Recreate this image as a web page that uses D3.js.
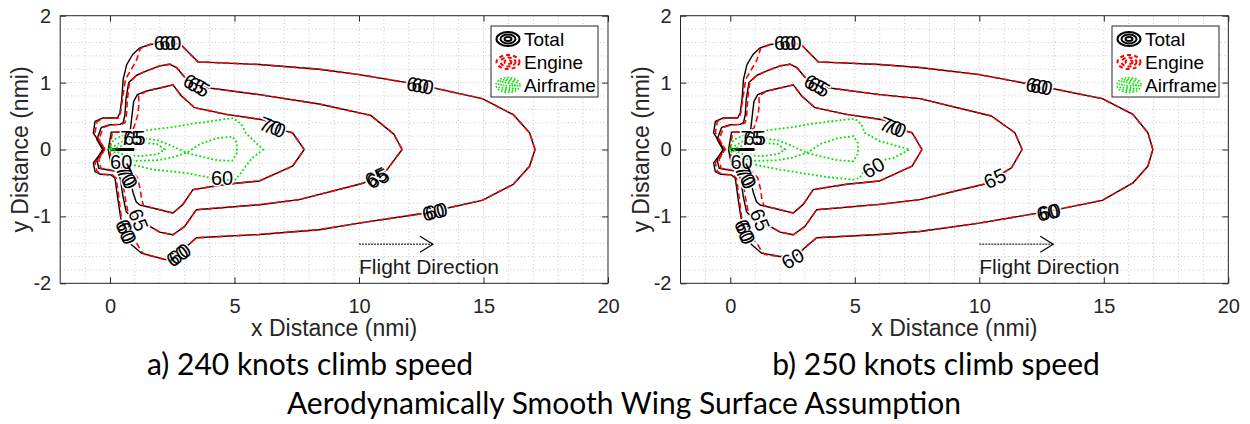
<!DOCTYPE html>
<html><head><meta charset="utf-8">
<script src="https://cdn.jsdelivr.net/npm/d3@7"></script>
<style>body{margin:0;background:#fff}svg{display:block}</style>
</head><body><svg id="c" width="1250" height="424"></svg>
<script>
// ---------- data ----------
const xTicks = [0, 5, 10, 15, 20];
const yTicks = [-2, -1, 0, 1, 2];
const legendNames = ["Total", "Engine", "Airframe"];
const captions = ["a) 240 knots climb speed", "b) 250 knots climb speed"];
const mainTitle = "Aerodynamically Smooth Wing Surface Assumption";

// Panel a (240 knots) contours [x nmi, y nmi]
const totalA60 = [[17.07,0],[16.85,0.25],[16.2,0.52],[14.95,0.76],[12.4,0.97],[10,1.12],[8.4,1.2],[6,1.27],[3.53,1.31],[2.87,1.56],[2.4,1.6],[1.6,1.57],[1.2,1.52],[0.91,1.42],[0.67,1.27],[0.53,1.05],[0.47,0.75],[0.4,0.55],[0.3,0.47],[-0.3,0.47],[-0.6,0.42],[-0.67,0.25],[-0.25,0.0],[-0.67,-0.2],[-0.6,-0.33],[-0.4,-0.37],[0.05,-0.38],[0.2,-0.43],[0.3,-0.7],[0.42,-1.0],[0.55,-1.25],[0.85,-1.42],[1.27,-1.55],[2.27,-1.65],[2.75,-1.56],[3.13,-1.43],[3.47,-1.32],[6,-1.27],[8.4,-1.2],[10,-1.1],[12.5,-0.96],[14.95,-0.76],[16.2,-0.52],[16.85,-0.25],[17.07,0]];
const totalA65 = [[11.73,0],[11.4,0.23],[10.47,0.51],[8.4,0.68],[6,0.82],[4.07,0.915],[3.47,0.965],[3.0,1.08],[2.67,1.225],[2.4,1.275],[2.0,1.25],[1.47,1.175],[1.07,1.11],[0.75,1.0],[0.64,0.75],[0.6,0.52],[0.53,0.4],[0.4,0.375],[0.0,0.37],[-0.35,0.33],[-0.53,0.15],[-0.3,0.0],[-0.53,-0.15],[-0.45,-0.28],[0.0,-0.31],[0.3,-0.33],[0.42,-0.45],[0.52,-0.7],[0.65,-0.93],[0.9,-1.02],[1.2,-1.08],[1.6,-1.15],[2.0,-1.235],[2.53,-1.275],[3.0,-1.15],[3.47,-0.9],[6,-0.825],[7.6,-0.75],[10.2,-0.5],[11.13,-0.3],[11.73,0]];
const totalA70 = [[7.8,0],[7.33,0.25],[6.9,0.29],[6.2,0.44],[4.67,0.525],[3.4,0.625],[2.87,0.8],[2.53,0.965],[2.0,0.92],[1.47,0.875],[1.1,0.82],[0.95,0.72],[0.88,0.5],[0.82,0.3],[0.65,0.26],[0.05,0.26],[-0.07,0.0],[0.05,-0.24],[0.35,-0.25],[0.6,-0.3],[0.8,-0.45],[0.93,-0.65],[1.05,-0.78],[1.2,-0.83],[2.0,-0.9],[2.53,-0.95],[2.93,-0.82],[3.33,-0.6],[4.67,-0.52],[6.0,-0.47],[7.33,-0.25],[7.8,0]];
const totalA75 = [[0.05,0.012],[0.95,0.012],[0.95,-0.012],[0.05,-0.012],[0.05,0.012]];
const engineA60 = [[17.07,0],[16.85,0.25],[16.2,0.52],[14.95,0.76],[12.4,0.97],[10,1.12],[8.4,1.2],[6,1.27],[3.53,1.31],[2.87,1.56],[2.4,1.6],[1.6,1.57],[1.22,1.51],[1.06,1.33],[0.62,1.05],[0.5,0.75],[0.42,0.55],[0.35,0.47],[-0.22,0.47],[-0.52,0.42],[-0.6,0.25],[-0.2,0.0],[-0.6,-0.2],[-0.52,-0.33],[-0.32,-0.37],[0.1,-0.38],[0.25,-0.43],[0.35,-0.7],[0.45,-1.0],[0.62,-1.25],[1.07,-1.4],[1.25,-1.52],[1.4,-1.57],[2.27,-1.65],[2.75,-1.56],[3.13,-1.43],[3.47,-1.32],[6,-1.27],[8.4,-1.2],[10,-1.1],[12.5,-0.96],[14.95,-0.76],[16.2,-0.52],[16.85,-0.25],[17.07,0]];
const engineA65 = [[11.73,0],[11.4,0.23],[10.47,0.51],[8.4,0.68],[6,0.82],[4.07,0.915],[3.47,0.965],[3.0,1.08],[2.67,1.225],[2.4,1.275],[2.0,1.25],[1.47,1.175],[1.07,1.11],[0.78,1.0],[0.7,0.75],[0.66,0.52],[0.6,0.4],[0.45,0.375],[0.05,0.37],[-0.27,0.33],[-0.45,0.15],[-0.22,0.0],[-0.45,-0.15],[-0.37,-0.28],[0.08,-0.31],[0.38,-0.33],[0.5,-0.45],[0.6,-0.7],[0.72,-0.93],[0.95,-1.02],[1.2,-1.08],[1.6,-1.15],[2.0,-1.235],[2.53,-1.275],[3.0,-1.15],[3.47,-0.9],[6,-0.825],[7.6,-0.75],[10.2,-0.5],[11.13,-0.3],[11.73,0]];
const engineA70 = [[7.8,0],[7.33,0.25],[6.9,0.29],[6.2,0.44],[4.67,0.525],[3.4,0.625],[2.87,0.8],[2.53,0.965],[2.0,0.92],[1.47,0.875],[1.15,0.8],[1.16,0.68],[1.12,0.52],[0.95,0.32],[0.7,0.26],[0.1,0.26],[-0.02,0.0],[0.1,-0.24],[0.45,-0.25],[0.8,-0.3],[1.1,-0.42],[1.22,-0.6],[1.27,-0.75],[1.35,-0.84],[2.0,-0.9],[2.53,-0.95],[2.93,-0.82],[3.33,-0.6],[4.67,-0.52],[6.0,-0.47],[7.33,-0.25],[7.8,0]];
const airA60 = [[-0.05,0.0],[0.15,0.15],[0.67,0.23],[1.3,0.28],[1.75,0.3],[2.6,0.34],[3.2,0.38],[4.0,0.42],[4.95,0.47],[5.27,0.38],[5.45,0.25],[5.8,0.12],[6.15,0.0],[5.7,-0.13],[5.45,-0.25],[5.2,-0.38],[5.0,-0.47],[4.0,-0.42],[3.2,-0.36],[2.53,-0.33],[1.73,-0.3],[0.93,-0.23],[0.3,-0.13],[-0.05,0.0]];
const airA65 = [[0.02,0.02],[0.5,0.12],[1.1,0.18],[1.9,0.14],[2.5,0.05],[3.07,-0.05],[3.6,-0.1],[4.3,-0.16],[4.9,-0.17],[5.1,-0.05],[5.1,0.1],[4.93,0.19],[4.3,0.17],[3.6,0.08],[3.07,-0.05],[2.5,-0.12],[1.9,-0.16],[1.0,-0.17],[0.4,-0.12],[0.02,0.02]];
const airA70 = [[0.1,0.0],[0.6,0.07],[1.3,0.1],[1.9,0.08],[2.2,0.0],[1.9,-0.07],[1.2,-0.1],[0.5,-0.07],[0.1,0.0]];
// labels [x, y, text, rotation deg]
const labelsA = [[2.2,1.6,"60",0],[2.42,1.6,"60",0],[3.4,0.98,"65",28],[3.56,0.94,"65",28],[6.45,0.35,"70",20],[6.62,0.32,"70",20],
  [12.36,0.965,"60",10],[12.56,0.95,"60",10],[10.68,-0.41,"65",-25],[10.76,-0.43,"65",-25],[12.98,-0.935,"60",-12],[13.1,-0.92,"60",-12],
  [2.7,-1.59,"60",-35],[2.8,-1.56,"60",-35],[1.15,-1.05,"65",68],[0.63,-1.21,"60",68],[0.68,-1.25,"60",68],[0.66,-0.38,"70",62],[0.71,-0.42,"70",62],
  [0.86,0.17,"75",0],[0.98,0.17,"65",0],[0.45,-0.18,"60",0],[4.5,-0.43,"60",0]];

// Panel b (250 knots)
const totalB60 = [[16.97,0],[16.77,0.25],[16.17,0.525],[14.94,0.76],[12.42,0.95],[10,1.12],[7.61,1.225],[6,1.27],[3.53,1.31],[2.87,1.56],[2.4,1.6],[1.6,1.57],[1.2,1.52],[0.91,1.42],[0.67,1.27],[0.53,1.05],[0.47,0.75],[0.4,0.55],[0.3,0.47],[-0.3,0.47],[-0.6,0.42],[-0.67,0.25],[-0.25,0.0],[-0.67,-0.2],[-0.6,-0.33],[-0.4,-0.37],[0.05,-0.38],[0.2,-0.43],[0.3,-0.7],[0.42,-1.0],[0.55,-1.25],[0.85,-1.42],[1.26,-1.55],[2.0,-1.6],[2.6,-1.6],[3.13,-1.425],[3.47,-1.32],[6,-1.27],[7.61,-1.225],[10,-1.1],[12.76,-0.925],[14.94,-0.76],[16.17,-0.5],[16.77,-0.25],[16.97,0]];
const totalB65 = [[11.72,0],[11.43,0.25],[10.49,0.5],[7.61,0.76],[6,0.82],[4.07,0.915],[3.47,0.965],[3.0,1.08],[2.67,1.225],[2.4,1.275],[2.0,1.25],[1.47,1.175],[1.07,1.11],[0.75,1.0],[0.64,0.75],[0.6,0.52],[0.53,0.4],[0.4,0.375],[0.0,0.37],[-0.35,0.33],[-0.53,0.15],[-0.3,0.0],[-0.53,-0.15],[-0.45,-0.28],[0.0,-0.31],[0.3,-0.33],[0.42,-0.45],[0.52,-0.7],[0.65,-0.93],[0.9,-1.02],[1.2,-1.08],[1.6,-1.15],[2.0,-1.235],[2.53,-1.275],[3.0,-1.15],[3.47,-0.9],[6,-0.82],[7.61,-0.75],[10.22,-0.515],[11.29,-0.275],[11.72,0]];
const totalB70 = [[7.7,0],[7.3,0.25],[6.9,0.29],[6.2,0.44],[4.67,0.525],[3.4,0.625],[2.87,0.8],[2.53,0.965],[2.0,0.92],[1.47,0.875],[1.1,0.82],[0.95,0.72],[0.88,0.5],[0.82,0.3],[0.65,0.26],[0.05,0.26],[-0.07,0.0],[0.05,-0.24],[0.35,-0.25],[0.6,-0.3],[0.8,-0.45],[0.93,-0.65],[1.05,-0.78],[1.2,-0.83],[2.0,-0.9],[2.53,-0.95],[2.93,-0.82],[3.33,-0.6],[4.67,-0.52],[6.0,-0.47],[7.3,-0.25],[7.7,0]];
const totalB75 = [[0.05,0.012],[0.95,0.012],[0.95,-0.012],[0.05,-0.012],[0.05,0.012]];
const engineB60 = [[16.97,0],[16.77,0.25],[16.17,0.525],[14.94,0.76],[12.42,0.95],[10,1.12],[7.61,1.225],[6,1.27],[3.53,1.31],[2.87,1.56],[2.4,1.6],[1.6,1.57],[1.22,1.51],[1.06,1.33],[0.62,1.05],[0.5,0.75],[0.42,0.55],[0.35,0.47],[-0.22,0.47],[-0.52,0.42],[-0.6,0.25],[-0.2,0.0],[-0.6,-0.2],[-0.52,-0.33],[-0.32,-0.37],[0.1,-0.38],[0.25,-0.43],[0.35,-0.7],[0.45,-1.0],[0.62,-1.25],[1.07,-1.4],[1.25,-1.52],[1.4,-1.57],[2.0,-1.6],[2.6,-1.6],[3.13,-1.425],[3.47,-1.32],[6,-1.27],[7.61,-1.225],[10,-1.1],[12.76,-0.925],[14.94,-0.76],[16.17,-0.5],[16.77,-0.25],[16.97,0]];
const engineB65 = [[11.72,0],[11.43,0.25],[10.49,0.5],[7.61,0.76],[6,0.82],[4.07,0.915],[3.47,0.965],[3.0,1.08],[2.67,1.225],[2.4,1.275],[2.0,1.25],[1.47,1.175],[1.07,1.11],[0.78,1.0],[0.7,0.75],[0.66,0.52],[0.6,0.4],[0.45,0.375],[0.05,0.37],[-0.27,0.33],[-0.45,0.15],[-0.22,0.0],[-0.45,-0.15],[-0.37,-0.28],[0.08,-0.31],[0.38,-0.33],[0.5,-0.45],[0.6,-0.7],[0.72,-0.93],[0.95,-1.02],[1.2,-1.08],[1.6,-1.15],[2.0,-1.235],[2.53,-1.275],[3.0,-1.15],[3.47,-0.9],[6,-0.82],[7.61,-0.75],[10.22,-0.515],[11.29,-0.275],[11.72,0]];
const engineB70 = [[7.7,0],[7.3,0.25],[6.9,0.29],[6.2,0.44],[4.67,0.525],[3.4,0.625],[2.87,0.8],[2.53,0.965],[2.0,0.92],[1.47,0.875],[1.15,0.8],[1.16,0.68],[1.12,0.52],[0.95,0.32],[0.7,0.26],[0.1,0.26],[-0.02,0.0],[0.1,-0.24],[0.45,-0.25],[0.8,-0.3],[1.1,-0.42],[1.22,-0.6],[1.27,-0.75],[1.35,-0.84],[2.0,-0.9],[2.53,-0.95],[2.93,-0.82],[3.33,-0.6],[4.67,-0.52],[6.0,-0.47],[7.3,-0.25],[7.7,0]];
const airB60 = [[-0.05,0.0],[0.15,0.15],[0.67,0.23],[1.3,0.28],[1.75,0.3],[2.6,0.34],[3.2,0.38],[4.0,0.42],[5.0,0.46],[5.27,0.375],[5.4,0.25],[6.0,0.125],[7.2,0.0],[6.55,-0.125],[6.0,-0.17],[5.48,-0.225],[5.35,-0.33],[5.2,-0.425],[4.94,-0.45],[3.87,-0.41],[3.0,-0.36],[2.0,-0.3],[1.0,-0.23],[0.3,-0.13],[-0.05,0.0]];
const airB65 = [[0.02,0.02],[0.5,0.12],[1.1,0.18],[1.9,0.14],[2.5,0.05],[3.07,-0.05],[3.6,-0.1],[4.3,-0.16],[4.94,-0.175],[5.14,-0.05],[5.12,0.1],[4.94,0.2],[4.3,0.17],[3.6,0.08],[3.07,-0.05],[2.5,-0.12],[1.9,-0.16],[1.0,-0.17],[0.4,-0.12],[0.02,0.02]];
const airB70 = [[0.1,0.0],[0.6,0.07],[1.3,0.1],[1.9,0.08],[2.2,0.0],[1.9,-0.07],[1.2,-0.1],[0.5,-0.07],[0.1,0.0]];
const labelsB = [[2.2,1.6,"60",0],[2.42,1.6,"60",0],[3.42,0.975,"65",28],[3.56,0.94,"65",28],[6.45,0.35,"70",20],[6.62,0.32,"70",20],
  [12.32,0.955,"60",10],[12.5,0.94,"60",10],[10.62,-0.43,"65",-25],[12.74,-0.94,"60",-12],[12.82,-0.93,"60",-12],
  [2.5,-1.63,"60",-30],[1.2,-1.05,"65",68],[0.57,-1.21,"60",68],[0.62,-1.25,"60",68],[0.6,-0.38,"70",62],[0.65,-0.42,"70",62],
  [0.86,0.17,"75",0],[0.98,0.17,"65",0],[0.45,-0.18,"60",0],[5.74,-0.27,"60",-30]];

const arrowData = {x0: 10, x1: 12.97, y: -1.415, label: "Flight Direction", labelY: -1.86};

// ---------- drawing ----------
const svg = d3.select("#c");
const FONT = "'Liberation Sans', Arial, Helvetica, sans-serif";
const CAPFONT = "Lato, 'Open Sans', sans-serif";
const AX = "#262626";

function drawPanel(p) {
  const x = d3.scaleLinear().domain([-2, 20]).range([p.x0, p.x1]);
  const y = d3.scaleLinear().domain([-2, 2]).range([283.3, 15.7]);
  const g = svg.append("g");
  const [X0, X1] = x.range(), [Y1, Y0] = y.range();

  // grid (dotted)
  const grid = g.append("g").attr("stroke", "#b8b8b8").attr("stroke-width", 0.8).attr("stroke-dasharray", "1,2.6");
  grid.selectAll("line.gx").data(d3.range(-1, 20, 1)).enter().append("line")
    .attr("x1", d => x(d)).attr("x2", d => x(d)).attr("y1", Y0).attr("y2", Y1);
  grid.selectAll("line.gy").data(d3.range(-9, 10, 1).map(v => v * 0.2)).enter().append("line")
    .attr("y1", d => y(d)).attr("y2", d => y(d)).attr("x1", X0).attr("x2", X1);

  const clipId = "clip" + p.id;
  svg.append("clipPath").attr("id", clipId).append("rect")
    .attr("x", X0).attr("y", Y0).attr("width", X1 - X0).attr("height", Y1 - Y0);
  const cg = g.append("g").attr("clip-path", `url(#${clipId})`);
  const line = d3.line().x(d => x(d[0])).y(d => y(d[1]));

  p.total.forEach(c => cg.append("path").attr("d", line(c)).attr("fill", "none")
    .attr("stroke", "#000").attr("stroke-width", 1.4).attr("stroke-linejoin", "round"));
  p.engine.forEach(c => cg.append("path").attr("d", line(c)).attr("fill", "none")
    .attr("stroke", "#ff0000").attr("stroke-width", 1.6).attr("stroke-dasharray", "6,3.5"));
  p.air.forEach(c => cg.append("path").attr("d", line(c)).attr("fill", "none")
    .attr("stroke", "#00e000").attr("stroke-width", 1.8).attr("stroke-dasharray", "1.8,2.3"));

  // contour labels: halos first, then texts (so overlapping labels both show)
  const lab = sel => sel.attr("transform", d => `translate(${x(d[0])},${y(d[1])}) rotate(${d[3]})`)
    .attr("text-anchor", "middle").attr("dy", "0.36em")
    .attr("font-family", FONT).attr("font-size", 20).text(d => d[2]);
  cg.selectAll("text.halo").data(p.labels).enter().append("text").call(lab)
    .attr("fill", "#fff").attr("stroke", "#fff").attr("stroke-width", 3);
  cg.selectAll("text.cl").data(p.labels).enter().append("text").call(lab).attr("fill", "#000");

  // flight direction arrow
  const ay = y(arrowData.y), ax0 = x(arrowData.x0), ax1 = x(arrowData.x1);
  g.append("line").attr("x1", ax0).attr("x2", ax1).attr("y1", ay).attr("y2", ay)
    .attr("stroke", "#000").attr("stroke-width", 1).attr("stroke-dasharray", "2,1");
  g.append("path").attr("d", `M${ax1 - 13},${ay - 8}L${ax1},${ay}L${ax1 - 13},${ay + 8}`)
    .attr("fill", "none").attr("stroke", "#000").attr("stroke-width", 1.2);
  g.append("text").attr("x", ax0).attr("y", y(arrowData.labelY))
    .attr("font-family", FONT).attr("font-size", 21).attr("fill", "#1a1a1a").text(arrowData.label);

  // axes (ticks inside, box)
  const style = sel => {
    sel.select(".domain").remove();
    sel.selectAll("line").attr("stroke", AX).attr("stroke-width", 1);
    sel.selectAll("text").attr("font-family", FONT).attr("font-size", 20).attr("fill", AX);
  };
  const fmt = d => String(d);
  g.append("g").attr("transform", `translate(0,${Y1})`)
    .call(d3.axisBottom(x).tickValues(xTicks).tickSize(-6).tickPadding(16).tickFormat(fmt)).call(style);
  g.append("g").attr("transform", `translate(0,${Y0})`)
    .call(d3.axisTop(x).tickValues(xTicks).tickSize(-6).tickFormat("")).call(style);
  g.append("g").attr("transform", `translate(${X0},0)`)
    .call(d3.axisLeft(y).tickValues(yTicks).tickSize(-6).tickPadding(9).tickFormat(fmt)).call(style);
  g.append("g").attr("transform", `translate(${X1},0)`)
    .call(d3.axisRight(y).tickValues(yTicks).tickSize(-6).tickFormat("")).call(style);
  g.append("rect").attr("x", X0).attr("y", Y0).attr("width", X1 - X0).attr("height", Y1 - Y0)
    .attr("fill", "none").attr("stroke", AX).attr("stroke-width", 1);

  // axis titles
  g.append("text").attr("x", (X0 + X1) / 2).attr("y", 336).attr("text-anchor", "middle")
    .attr("font-family", FONT).attr("font-size", 23).attr("fill", AX).text("x Distance (nmi)");
  g.append("text").attr("transform", `translate(${X0 - 32},${(Y0 + Y1) / 2}) rotate(-90)`).attr("text-anchor", "middle")
    .attr("font-family", FONT).attr("font-size", 23).attr("fill", AX).text("y Distance (nmi)");

  // legend
  const L = g.append("g").attr("transform", `translate(${p.legX},26)`);
  L.append("rect").attr("x", 0).attr("y", 0).attr("width", 107).attr("height", 71)
    .attr("fill", "#fff").attr("stroke", AX).attr("stroke-width", 1);
  const icons = [
    {stroke: "#000", dash: null, w: 2},
    {stroke: "#ff0000", dash: "4,3", w: 2},
    {stroke: "#00e000", dash: "1.5,2", w: 1.6}
  ];
  legendNames.forEach((name, i) => {
    const cy = 13 + i * 23;
    const ic = L.append("g").attr("transform", `translate(17,${cy})`);
    const rings = i === 2 ? [[12, 7.5], [9.5, 6], [7, 4.5], [4.5, 3], [2, 1.5]] : [[11.5, 7], [7.5, 4.5], [3.5, 2]];
    rings.forEach(r => ic.append("ellipse").attr("rx", r[0]).attr("ry", r[1]).attr("fill", "none")
      .attr("stroke", icons[i].stroke).attr("stroke-width", icons[i].w).attr("stroke-dasharray", icons[i].dash));
    L.append("text").attr("x", 33).attr("y", cy).attr("dy", "0.36em")
      .attr("font-family", FONT).attr("font-size", 19).attr("fill", "#000").text(name);
  });

  // caption
  svg.append("text").attr("x", p.capX).attr("y", 375).attr("text-anchor", "middle")
    .attr("font-family", CAPFONT).attr("font-size", 30).attr("fill", "#000").text(p.caption);
}

drawPanel({id: "a", x0: 60.2, x1: 608, legX: 491, capX: 310, caption: captions[0],
  total: [totalA60, totalA65, totalA70, totalA75], engine: [engineA60, engineA65, engineA70],
  air: [airA60, airA65, airA70], labels: labelsA});
drawPanel({id: "b", x0: 680.5, x1: 1228.3, legX: 1112, capX: 936, caption: captions[1],
  total: [totalB60, totalB65, totalB70, totalB75], engine: [engineB60, engineB65, engineB70],
  air: [airB60, airB65, airB70], labels: labelsB});

svg.append("text").attr("x", 624).attr("y", 414).attr("text-anchor", "middle")
  .attr("font-family", CAPFONT).attr("font-size", 30).attr("fill", "#000").text(mainTitle);
</script></body></html>
